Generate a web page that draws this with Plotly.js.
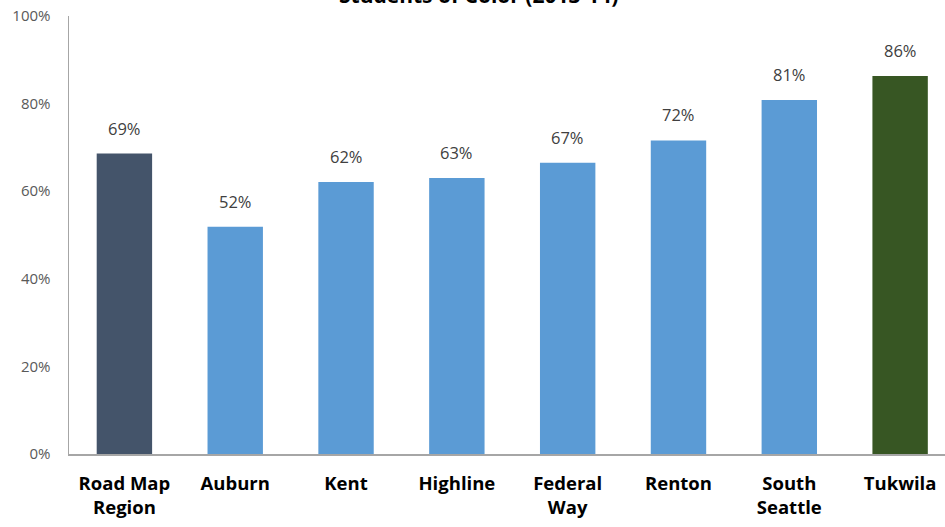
<!DOCTYPE html>
<html>
<head>
<meta charset="utf-8">
<script src="https://cdn.plot.ly/plotly-3.0.1.min.js"></script>
<style>html,body{margin:0;padding:0;background:#fff;}#chart{width:945px;height:527px;}</style>
</head>
<body>
<div id="chart"></div>
<script>
const categories = ["Road Map<br>Region", "Auburn", "Kent", "Highline", "Federal<br>Way", "Renton", "South<br>Seattle", "Tukwila"];
const values = [68.6, 51.9, 62.1, 63.0, 66.5, 71.6, 80.8, 86.3];
const labels = ["69%", "52%", "62%", "63%", "67%", "72%", "81%", "86%"];
const colors = ["#44546A", "#5B9BD5", "#5B9BD5", "#5B9BD5", "#5B9BD5", "#5B9BD5", "#5B9BD5", "#375623"];
const yTickVals = [0, 20, 40, 60, 80, 100];
const yTickText = ["0%", "20%", "40%", "60%", "80%", "100%"];
const titleText = "Students of Color (2013-14)";

const trace = {
  type: "bar",
  x: categories.map((c, i) => i),
  y: values,
  marker: {color: colors},
  hoverinfo: "none"
};

const annotations = values.map((v, i) => ({
  x: i, y: v, xref: "x", yref: "y",
  text: labels[i], showarrow: false,
  yanchor: "bottom", yshift: 12,
  font: {family: "'Open Sans', Lato, sans-serif", size: 16.5, color: "#404040"}
}));
annotations.push({
  xref: "paper", yref: "paper", x: 0.468, y: 1.012, xanchor: "center", yanchor: "bottom",
  text: "<b>" + titleText + "</b>", showarrow: false,
  font: {family: "'Open Sans', Lato, sans-serif", size: 21, color: "#000"}
});

const layout = {
  width: 945, height: 527,
  margin: {l: 69, r: 0, t: 16, b: 73},
  paper_bgcolor: "#fff", plot_bgcolor: "#fff",
  bargap: 0.5,
  showlegend: false,
  xaxis: {
    range: [-0.5, 7.405],
    tickvals: categories.map((c, i) => i),
    ticktext: categories.map(c => "<b>" + c + "</b>"),
    showline: true, linecolor: "#A6A6A6", linewidth: 1.5,
    ticks: "", showgrid: false, zeroline: false,
    tickfont: {family: "'Open Sans', Lato, sans-serif", size: 18.5, color: "#000"},
    ticklabelstandoff: 12
  },
  yaxis: {
    range: [0, 100],
    tickvals: yTickVals, ticktext: yTickText,
    showline: true, linecolor: "#A6A6A6", linewidth: 1.5,
    ticks: "", showgrid: false, zeroline: false,
    tickfont: {family: "'Open Sans', Lato, sans-serif", size: 15, color: "#595959"},
    ticklabelstandoff: 14
  },
  annotations: annotations
};

Plotly.newPlot("chart", [trace], layout, {displayModeBar: false, staticPlot: true});
</script>
</body>
</html>
